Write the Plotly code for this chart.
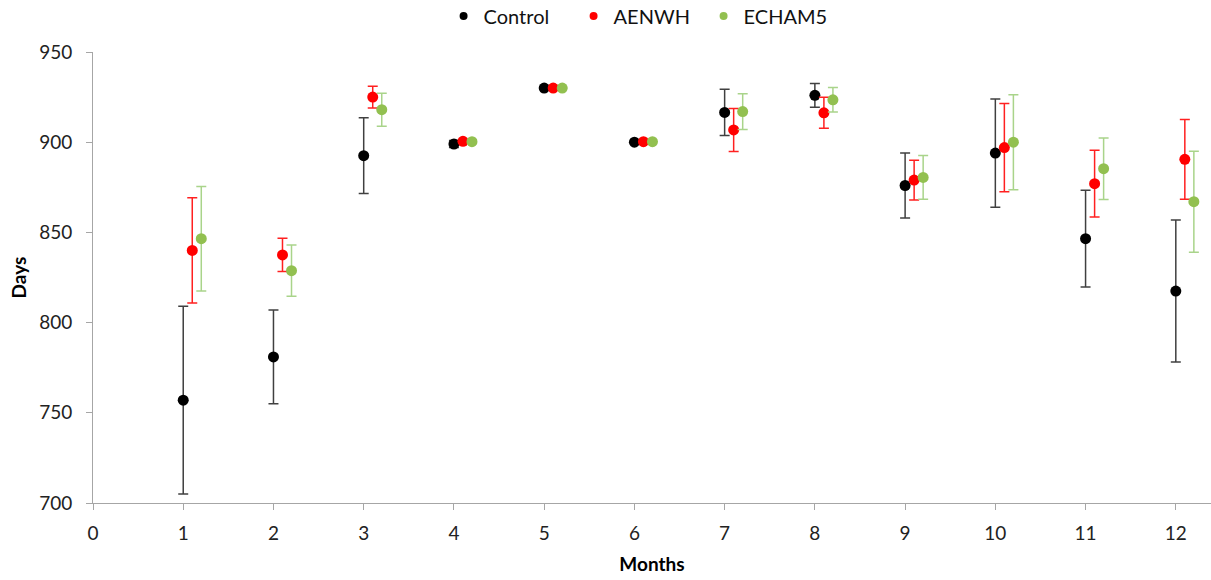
import plotly.graph_objects as go

months = [1, 2, 3, 4, 5, 6, 7, 8, 9, 10, 11, 12]

control_mean = [757, 781, 892.5, 899, 930, 900, 916.5, 926, 876, 894, 846.5, 817.5]
control_err = [52, 26, 21, 2, 0, 0, 12.8, 6.6, 18, 30, 26.8, 39.4]

aenwh_mean = [840, 837.5, 925, 900.5, 930, 900.3, 906.8, 916.3, 879, 897, 877, 890.5]
aenwh_err = [29.2, 9.2, 6, 1, 0, 0, 11.9, 8.6, 11, 24.4, 18.5, 22.1]

echam5_mean = [846.5, 828.8, 918, 900.3, 930, 900.3, 917, 923.5, 880.5, 900, 885.3, 867]
echam5_err = [29, 14.2, 9.2, 1, 0, 0, 9.9, 6.8, 12.1, 26.3, 17, 28]

series = [
    ("Control", control_mean, control_err, 0.0, "#000000", "#404040"),
    ("AENWH", aenwh_mean, aenwh_err, 0.1, "#ff0000", "#ff2020"),
    ("ECHAM5", echam5_mean, echam5_err, 0.2, "#92c050", "#a9d48a"),
]

fig = go.Figure()
for name, mean, err, off, mcol, ecol in series:
    fig.add_trace(go.Scatter(
        x=[m + off for m in months], y=mean, mode="markers", name=name,
        marker=dict(size=11, color=mcol), showlegend=False,
        error_y=dict(type="data", array=err, visible=True, color=ecol,
                     thickness=1.5, width=5),
    ))
# legend entries with smaller symbols, as in the reference
for name, mean, err, off, mcol, ecol in series:
    fig.add_trace(go.Scatter(
        x=[None], y=[None], mode="markers", name=name,
        marker=dict(size=8, color=mcol), showlegend=True,
    ))

font_family = "Lato, 'Open Sans', sans-serif"
fig.update_layout(
    width=1211, height=580,
    margin=dict(l=93, r=0, t=52, b=77, autoexpand=False),
    paper_bgcolor="white", plot_bgcolor="white",
    font=dict(family=font_family, size=18, color="#222222"),
    showlegend=True,
    legend=dict(orientation="h", x=0.488, xanchor="center", y=1.08, yanchor="middle",
                font=dict(size=20, color="#111111"), itemwidth=30,
                entrywidth=85, entrywidthmode="pixels",
                tracegroupgap=0, bgcolor="rgba(0,0,0,0)"),
    xaxis=dict(range=[0, 12.39], tickmode="array", tickvals=list(range(0, 13)),
               showgrid=False, zeroline=False, showline=True, linecolor="#a6a6a6",
               linewidth=1, ticks="outside", ticklen=6, tickcolor="#a6a6a6",
               ticklabelstandoff=7,
               tickfont=dict(size=19, color="#222222"),
               title=dict(text="<b>Months</b>", font=dict(size=19, color="#000000"), standoff=14)),
    yaxis=dict(range=[700, 950], tickmode="array", tickvals=[700, 750, 800, 850, 900, 950],
               showgrid=False, zeroline=False, showline=True, linecolor="#a6a6a6",
               linewidth=1, ticks="outside", ticklen=6, tickcolor="#a6a6a6",
               ticklabelstandoff=10,
               tickfont=dict(size=19, color="#222222"),
               title=dict(text="<b>Days</b>", font=dict(size=19, color="#000000"), standoff=7)),
)

fig.write_html("out.html")
